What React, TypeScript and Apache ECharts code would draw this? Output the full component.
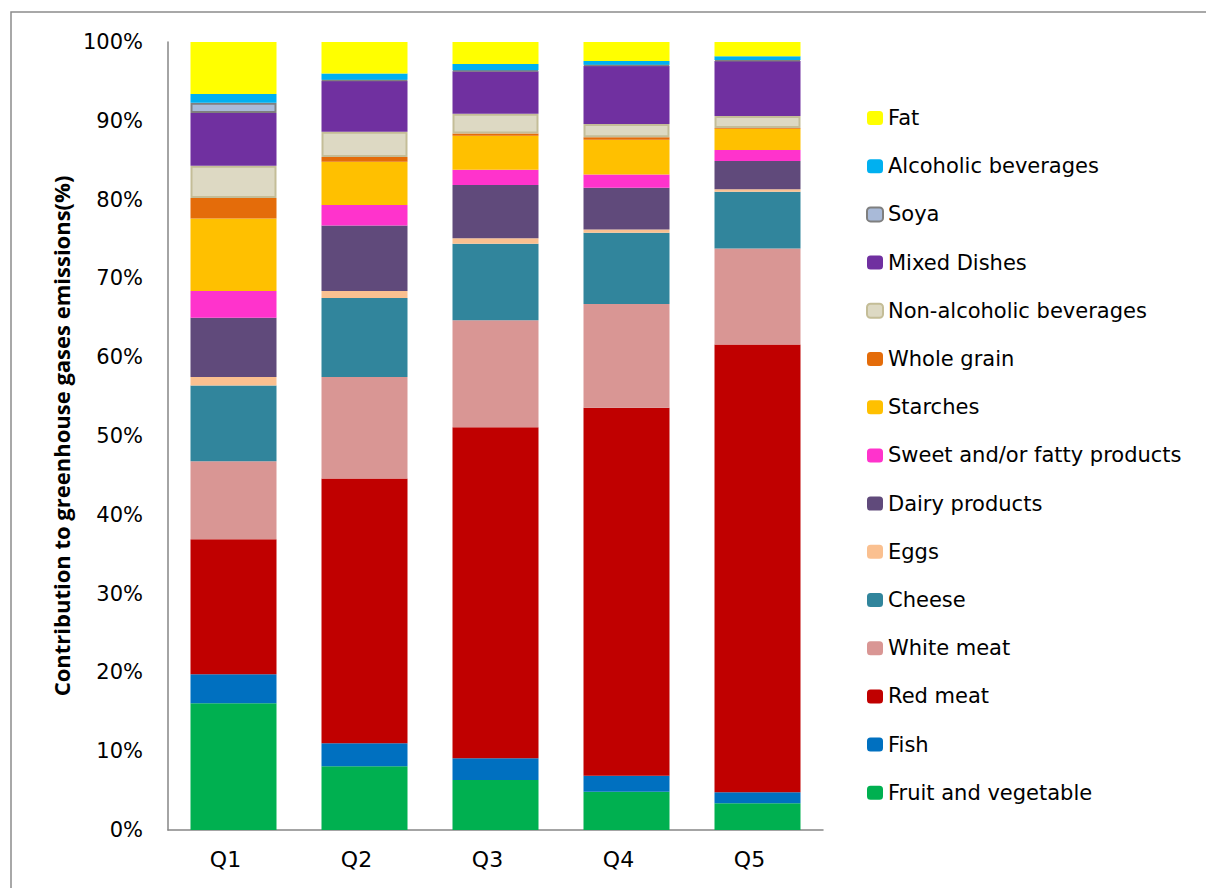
import React, { useEffect, useRef } from "react";
import * as echarts from "echarts";

const categories = ["Q1", "Q2", "Q3", "Q4", "Q5"];
const yTicks = [0, 10, 20, 30, 40, 50, 60, 70, 80, 90, 100];

const fruitVeg = [16.1, 8.1, 6.35, 4.85, 3.4];
const fish = [3.65, 2.9, 2.75, 2.05, 1.4];
const redMeat = [17.15, 33.6, 42.0, 46.7, 56.8];
const whiteMeat = [9.9, 12.9, 13.6, 13.15, 12.2];
const cheese = [9.6, 10.0, 9.7, 9.05, 7.2];
const eggs = [1.1, 0.9, 0.7, 0.4, 0.3];
const dairy = [7.5, 8.3, 6.75, 5.3, 3.6];
const sweetFatty = [3.4, 2.6, 1.95, 1.7, 1.4];
const starches = [9.2, 5.5, 4.3, 4.4, 2.7];
const wholeGrain = [2.6, 0.6, 0.3, 0.3, 0.1];
const nonAlcoholic = [4.1, 3.2, 2.5, 1.7, 1.5];
const mixedDishes = [6.7, 6.5, 5.4, 7.4, 7.0];
const soya = [1.3, 0.1, 0.1, 0.1, 0.1];
const alcoholic = [1.1, 0.8, 0.8, 0.5, 0.5];
const fat = [6.6, 4.0, 2.8, 2.4, 1.8];

const seriesDefs = [
  { name: "Fruit and vegetable", data: fruitVeg, color: "#00B050" },
  { name: "Fish", data: fish, color: "#0070C0" },
  { name: "Red meat", data: redMeat, color: "#C00000" },
  { name: "White meat", data: whiteMeat, color: "#D99694" },
  { name: "Cheese", data: cheese, color: "#31859C" },
  { name: "Eggs", data: eggs, color: "#FAC090" },
  { name: "Dairy products", data: dairy, color: "#604A7B" },
  { name: "Sweet and/or fatty products", data: sweetFatty, color: "#FF33CC" },
  { name: "Starches", data: starches, color: "#FFC000" },
  { name: "Whole grain", data: wholeGrain, color: "#E46C0A" },
  { name: "Non-alcoholic beverages", data: nonAlcoholic, color: "#DDD9C3", border: "#C4BD97" },
  { name: "Mixed Dishes", data: mixedDishes, color: "#7030A0" },
  { name: "Soya", data: soya, color: "#A9BAD8", border: "#7F7F7F" },
  { name: "Alcoholic beverages", data: alcoholic, color: "#00B0F0" },
  { name: "Fat", data: fat, color: "#FFFF00" },
];

const FONT = "'DejaVu Sans', 'Open Sans', sans-serif";
const TITLE_FONT = "'Open Sans', 'Noto Sans', sans-serif";

export default function App() {
  const ref = useRef<HTMLDivElement>(null);
  useEffect(() => {
    if (!ref.current) return;
    const chart = echarts.init(ref.current, undefined, { renderer: "svg" });
    chart.setOption({
      animation: false,
      backgroundColor: "#ffffff",
      textStyle: { fontFamily: FONT },
      graphic: [
        {
          type: "rect",
          shape: { x: 11, y: 12, width: 1300, height: 1000 },
          style: { fill: "none", stroke: "#8c8c8c", lineWidth: 1.5 },
          silent: true,
        },
      ],
      grid: { left: 168, top: 42, width: 655, height: 788, containLabel: false },
      legend: {
        orient: "vertical",
        left: 861,
        top: 102.5,
        itemWidth: 16,
        itemHeight: 14,
        itemGap: 27.2,
        data: seriesDefs.map((s) => s.name).reverse(),
        textStyle: { fontFamily: FONT, fontSize: 21, color: "#000", lineHeight: 21, padding: [0, 0, 0, 0] },
        selectedMode: false,
      },
      xAxis: {
        type: "category",
        data: categories,
        axisLine: { lineStyle: { color: "#868686", width: 1.5 } },
        axisTick: { show: false },
        axisLabel: { fontFamily: FONT, fontSize: 22, color: "#000", margin: 18, padding: [0, 16, 0, 0] },
      },
      yAxis: {
        type: "value",
        min: yTicks[0],
        max: yTicks[yTicks.length - 1],
        interval: 10,
        name: "Contribution to greenhouse gases emissions(%)",
        nameLocation: "middle",
        nameGap: 96,
        nameTextStyle: { fontFamily: TITLE_FONT, fontSize: 22, fontWeight: "bold", color: "#000" },
        axisLine: { show: true, lineStyle: { color: "#868686", width: 1.5 } },
        axisTick: { show: false },
        splitLine: { show: false },
        axisLabel: { fontFamily: FONT, fontSize: 21, color: "#000", margin: 25, formatter: "{value}%" },
      },
      series: seriesDefs.map((s) => ({
        name: s.name,
        type: "bar",
        stack: "total",
        barWidth: 86,
        data: s.data,
        itemStyle: {
          color: s.color,
          borderColor: s.border || s.color,
          borderWidth: s.border ? 2 : 0,
        },
      })),
    });
    return () => chart.dispose();
  }, []);
  return (
    <div
      ref={ref}
      style={{ position: "fixed", left: 0, top: 0, width: 1206, height: 888, background: "#fff" }}
    />
  );
}
